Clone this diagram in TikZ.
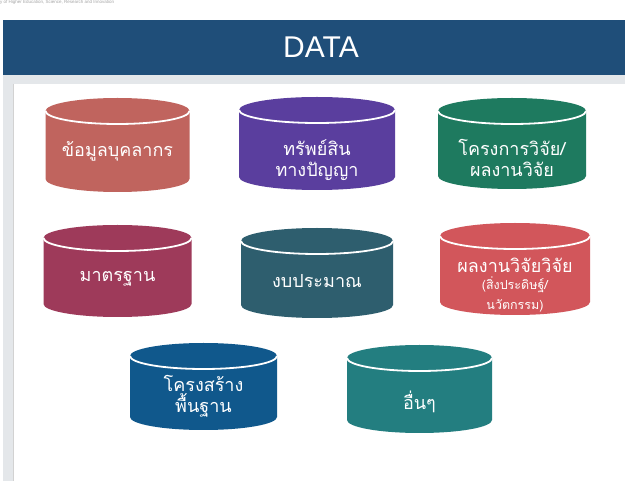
\documentclass[tikz,border=0pt]{standalone}
\usepackage{fontspec}
\setmainfont{Liberation Sans}
\newfontfamily\thai[Script=Thai]{Loma}
\definecolor{hdr}{HTML}{1F4E79}
\definecolor{band}{HTML}{E4E7EA}
\definecolor{cA}{HTML}{C0645E}
\definecolor{cB}{HTML}{5A3E9E}
\definecolor{cC}{HTML}{1E7A5F}
\definecolor{cD}{HTML}{9E3A5A}
\definecolor{cE}{HTML}{2E5E6E}
\definecolor{cF}{HTML}{D2565B}
\definecolor{cG}{HTML}{10588C}
\definecolor{cH}{HTML}{237E80}
\tikzset{
  lbl/.style={text=white, align=center, font=\thai\fontsize{18}{21.5}\selectfont, inner sep=0pt},
  rim/.style={white, line width=1.8pt},
}
% #1 name, #2 cx, #3 top, #4 bottom, #5 half width, #6 colour, #7 text y, #8 text
\newcommand\dbcyl[8]{%
  \fill[#6] ({#2-#5},{#3+13}) -- ({#2-#5},{#4-13})
    arc[start angle=180,end angle=360,x radius=#5pt,y radius=13pt]
    -- ({#2+#5},{#3+13})
    arc[start angle=0,end angle=180,x radius=#5pt,y radius=13pt] -- cycle;
  \draw[rim] ({#2-#5},{#3+13}) arc[start angle=180,end angle=360,x radius=#5pt,y radius=13pt];
  \node[lbl] (#1) at (#2,#7) {#8};
}
\begin{document}
\begin{tikzpicture}[x=1pt,y=-1pt]
\useasboundingbox (0,0) rectangle (625,481);
\fill[white] (0,0) rectangle (625,481);
\node[anchor=north west, inner sep=0pt, text=gray!70, font=\fontsize{4.5}{5}\selectfont] (ministry) at (0,0.5) {y of Higher Education, Science, Research and Innovation};
\fill[band] (3,75) rectangle (625,84);
\fill[band] (3,75) rectangle (14,481);
\draw[gray!35, line width=0.8pt] (13.5,84) -- (13.5,481);
\fill[hdr] (3,20) rectangle (625,75);
\node[text=white, font=\fontsize{30}{34}\selectfont, inner sep=0pt] (title) at (321,47) {DATA};

\dbcyl{personnel}{117.5}{98}{192}{72}{cA}{151}{ข้อมูลบุคลากร}
\dbcyl{ip}{317}{97}{190}{78}{cB}{160}{ทรัพย์สิน\\ทางปัญญา}
\dbcyl{project}{512}{98}{189}{74}{cC}{158}{โครงการวิจัย/\\ผลงานวิจัย}
\dbcyl{standard}{117.5}{225}{317}{74}{cD}{279}{มาตรฐาน}
\dbcyl{budget}{317}{228}{318}{76}{cE}{281}{งบประมาณ}
\dbcyl{output}{515}{223}{315}{75}{cF}{285}{ผลงานวิจัยวิจัย\\[-4pt]{\fontsize{12.5}{12.5}\selectfont(สิ่งประดิษฐ์/}\\[-2pt]{\fontsize{12.5}{12.5}\selectfont นวัตกรรม)}}
\dbcyl{infra}{203.5}{343}{430}{73.5}{cG}{396}{โครงสร้าง\\พื้นฐาน}
\dbcyl{other}{419.5}{345}{433}{72.5}{cH}{402}{อื่นๆ}
\end{tikzpicture}
\end{document}
